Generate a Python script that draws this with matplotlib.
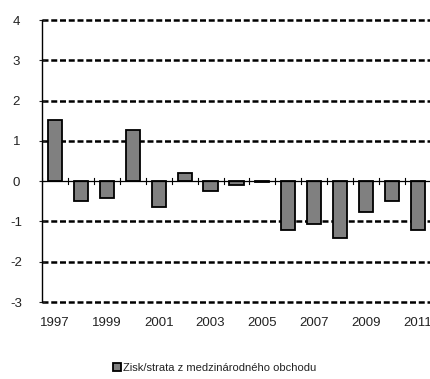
import numpy as np
import matplotlib.pyplot as plt

plt.rcParams['font.family'] = ['Liberation Sans', 'DejaVu Sans']
plt.rcParams['axes.unicode_minus'] = False

years = list(range(1997, 2012))
values = [1.52, -0.48, -0.42, 1.28, -0.63, 0.2, -0.25, -0.1, -0.03,
          -1.22, -1.05, -1.42, -0.77, -0.5, -1.2]
year_labels = [str(y) if (y - 1997) % 2 == 0 else '' for y in years]
series_name = 'Zisk/strata z medzinárodného obchodu'

fig = plt.figure(figsize=(4.3, 3.79), dpi=100)
ax = fig.add_axes([0.098, 0.203, 0.902, 0.744])

x = np.arange(len(years))
ax.bar(x, values, width=0.55, color='#808080', edgecolor='black',
       linewidth=1.3, zorder=3, label=series_name)

# dashed horizontal gridlines
for g in range(-3, 5):
    if g == 0:
        continue
    ax.axhline(g, color='black', linestyle=(0, (2.4, 1.1)), linewidth=1.8,
               zorder=1, clip_on=False)

# zero line with category separator ticks
ax.axhline(0, color='black', linewidth=0.9, zorder=4)
for b in np.arange(-0.5, len(years), 1.0):
    ax.plot([b, b], [-0.08, 0.08], color='black', linewidth=0.8, zorder=4)

ax.set_xlim(-0.5, 14.47)
ax.set_ylim(-3, 4)
ax.set_yticks(range(-3, 5))
ax.tick_params(axis='y', direction='inout', length=5, width=0.8,
               labelsize=9.5, colors='#222222', pad=16)
for lbl in ax.get_yticklabels():
    lbl.set_horizontalalignment('center')
ax.set_xticks(x)
ax.set_xticklabels(year_labels)
ax.tick_params(axis='x', length=0, labelsize=9.5, colors='#222222', pad=11)

for s in ['top', 'right', 'bottom']:
    ax.spines[s].set_visible(False)
ax.spines['left'].set_linewidth(1.0)

fig.legend(loc='lower center', bbox_to_anchor=(0.5, -0.01), frameon=False,
           fontsize=8, handlelength=0.7, handleheight=0.7, handletextpad=0.2,
           labelcolor='#222222')

fig.savefig('out.png', dpi=100, facecolor='white')
